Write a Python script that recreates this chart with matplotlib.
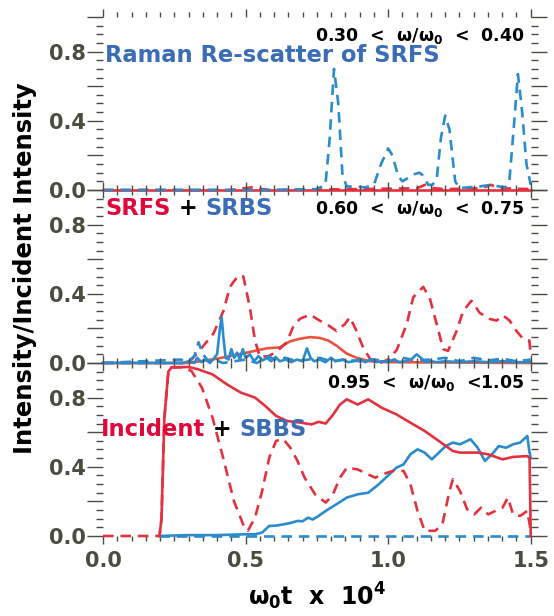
import matplotlib
matplotlib.use("Agg")
import matplotlib.pyplot as plt
from matplotlib.ticker import FixedLocator, MultipleLocator, FuncFormatter

plt.rcParams["font.family"] = ["DejaVu Sans"]
plt.rcParams["font.weight"] = "bold"
plt.rcParams["mathtext.fontset"] = "custom"
plt.rcParams["mathtext.rm"] = "DejaVu Sans:bold"
plt.rcParams["mathtext.it"] = "DejaVu Sans:bold"
plt.rcParams["mathtext.bf"] = "DejaVu Sans:bold"

# ---- data (time in units of 1e4 / omega_0, intensity / incident) ----
# top panel: 0.30 < w/w0 < 0.40
raman_t = [0.0, 0.3, 0.6, 0.75, 0.78, 0.795, 0.81, 0.825, 0.84, 0.855, 0.88, 0.92, 0.95, 0.975,
           1.0, 1.015, 1.035, 1.05, 1.07, 1.09, 1.11, 1.125, 1.14, 1.155, 1.17, 1.185, 1.2, 1.215,
           1.235, 1.25, 1.28, 1.32, 1.36, 1.39, 1.41, 1.425, 1.44, 1.455, 1.47, 1.485, 1.5]
raman_v = [0.0, 0.0, 0.0, 0.005, 0.03, 0.3, 0.7, 0.5, 0.08, 0.02, 0.02, 0.015, 0.03, 0.15,
           0.24, 0.2, 0.08, 0.05, 0.07, 0.09, 0.1, 0.08, 0.03, 0.03, 0.06, 0.3, 0.43, 0.35,
           0.05, 0.01, 0.015, 0.02, 0.03, 0.02, 0.015, 0.05, 0.35, 0.67, 0.45, 0.15, 0.03]
top_red_t = [0.0, 0.45, 0.52, 0.58, 0.9, 1.1, 1.13, 1.16, 1.2, 1.33, 1.36, 1.39, 1.5]
top_red_v = [0.0, 0.0, 0.015, 0.0, 0.005, 0.01, 0.03, 0.01, 0.005, 0.01, 0.03, 0.01, 0.005]
top_solid_t = [0.0, 1.5]
top_solid_v = [0.0, 0.0]

# middle panel: 0.60 < w/w0 < 0.75
srfs_dash_t = [0.0, 0.3, 0.34, 0.387, 0.422, 0.445, 0.474, 0.492, 0.515, 0.533, 0.55, 0.58,
               0.609, 0.644, 0.667, 0.69, 0.726, 0.76, 0.784, 0.819, 0.848, 0.866, 0.889, 0.912,
               0.936, 0.971, 1.0, 1.03, 1.065, 1.088, 1.123, 1.146, 1.17, 1.193, 1.21, 1.24,
               1.263, 1.292, 1.321, 1.356, 1.38, 1.403, 1.426, 1.45, 1.473, 1.495, 1.5]
srfs_dash_v = [0.0, 0.0, 0.075, 0.17, 0.30, 0.44, 0.505, 0.50, 0.32, 0.13, 0.035, 0.04,
               0.065, 0.12, 0.21, 0.255, 0.28, 0.245, 0.225, 0.185, 0.225, 0.265, 0.185, 0.09,
               0.025, 0.0, 0.02, 0.075, 0.225, 0.38, 0.44, 0.375, 0.225, 0.08, 0.07, 0.185,
               0.30, 0.36, 0.29, 0.255, 0.245, 0.275, 0.245, 0.185, 0.14, 0.13, 0.05]
srfs_t = [0.0, 0.3, 0.34, 0.4, 0.445, 0.504, 0.574, 0.62, 0.655, 0.69, 0.726, 0.76, 0.79,
          0.819, 0.854, 0.889, 0.936, 1.0, 1.5]
srfs_v = [0.0, 0.0, 0.01, 0.025, 0.04, 0.06, 0.085, 0.09, 0.125, 0.14, 0.15, 0.145, 0.13,
          0.10, 0.055, 0.03, 0.01, 0.005, 0.0]
srbs_t = [0.0, 0.28, 0.30, 0.32, 0.33, 0.345, 0.36, 0.375, 0.39, 0.40, 0.41, 0.416, 0.422,
          0.43, 0.44, 0.45, 0.46, 0.47, 0.48, 0.49, 0.50, 0.515, 0.53, 0.545, 0.56, 0.575,
          0.59, 0.605, 0.62, 0.64, 0.66, 0.68, 0.70, 0.715, 0.728, 0.74, 0.76, 0.78, 0.80,
          0.815, 0.84, 0.86, 0.88, 0.90, 0.92, 0.94, 0.96, 0.98, 1.0, 1.02, 1.04, 1.06, 1.08,
          1.10, 1.115, 1.13, 1.15, 1.17, 1.2, 1.25, 1.3, 1.35, 1.4, 1.45, 1.5]
srbs_v = [0.0, 0.0, 0.01, 0.0, 0.03, 0.005, 0.02, 0.0, 0.03, 0.05, 0.2, 0.265, 0.15,
          0.03, 0.02, 0.08, 0.03, 0.06, 0.02, 0.08, 0.03, 0.05, 0.01, 0.04, 0.015, 0.03,
          0.01, 0.035, 0.01, 0.02, 0.005, 0.02, 0.01, 0.085, 0.03, 0.01, 0.02, 0.005, 0.03,
          0.01, 0.02, 0.005, 0.01, 0.02, 0.005, 0.02, 0.005, 0.01, 0.005, 0.02, 0.005, 0.01, 0.02,
          0.05, 0.03, 0.005, 0.01, 0.005, 0.01, 0.005, 0.01, 0.005, 0.01, 0.005, 0.005]
srbs_dash_t = [0.0, 0.27, 0.3, 0.32, 0.335, 0.35, 0.37, 0.39, 0.42, 0.46, 0.5, 0.54, 0.58,
               0.6, 0.64, 0.68, 0.72, 0.76, 0.8, 0.85, 0.9, 0.95, 1.0, 1.05, 1.1, 1.15, 1.2,
               1.25, 1.3, 1.35, 1.4, 1.45, 1.5]
srbs_dash_v = [0.0, 0.02, 0.01, 0.04, 0.12, 0.05, 0.01, 0.02, 0.0, 0.01, 0.02, 0.0, 0.04,
               0.02, 0.03, 0.01, 0.02, 0.03, 0.01, 0.02, 0.01, 0.02, 0.01, 0.03, 0.015, 0.02, 0.03,
               0.01, 0.03, 0.015, 0.025, 0.01, 0.02]

# bottom panel: 0.95 < w/w0 < 1.05
inc_t = [0.198, 0.205, 0.215, 0.229, 0.24, 0.3, 0.335, 0.384, 0.434, 0.483, 0.533,
         0.57, 0.607, 0.645, 0.694, 0.731, 0.756, 0.781, 0.806, 0.831, 0.855, 0.893, 0.93,
         0.979, 1.029, 1.078, 1.128, 1.178, 1.227, 1.252, 1.314, 1.351, 1.401, 1.438, 1.488,
         1.496, 1.5]
inc_v = [0.0, 0.1, 0.68, 0.95, 0.975, 0.977, 0.963, 0.934, 0.877, 0.829, 0.80,
         0.75, 0.694, 0.665, 0.655, 0.645, 0.66, 0.65, 0.70, 0.76, 0.79, 0.76, 0.79,
         0.74, 0.703, 0.655, 0.607, 0.549, 0.491, 0.482, 0.482, 0.472, 0.443, 0.457, 0.462,
         0.45, 0.0]
inc_dash_t = [0.0, 0.198, 0.205, 0.215, 0.229, 0.24, 0.28, 0.31, 0.347, 0.384, 0.421, 0.459,
              0.496, 0.508, 0.533, 0.558, 0.583, 0.607, 0.632, 0.657, 0.682, 0.707, 0.744,
              0.781, 0.806, 0.831, 0.855, 0.893, 0.93, 0.955, 0.979, 1.017, 1.054, 1.078,
              1.103, 1.128, 1.165, 1.19, 1.215, 1.227, 1.252, 1.277, 1.302, 1.326, 1.351,
              1.376, 1.401, 1.42, 1.438, 1.463, 1.488, 1.5]
inc_dash_v = [0.0, 0.0, 0.1, 0.68, 0.95, 0.975, 0.975, 0.954, 0.857, 0.684, 0.453, 0.202,
              0.048, 0.03, 0.106, 0.26, 0.453, 0.55, 0.56, 0.51, 0.434, 0.337, 0.24,
              0.193, 0.24, 0.337, 0.395, 0.385, 0.356, 0.337, 0.356, 0.376, 0.376, 0.299,
              0.145, 0.03, 0.03, 0.067, 0.26, 0.328, 0.26, 0.154, 0.125, 0.164, 0.125,
              0.145, 0.164, 0.222, 0.125, 0.116, 0.145, 0.03]
sbbs_t = [0.198, 0.3, 0.4, 0.5, 0.533, 0.558, 0.583, 0.607, 0.632, 0.657, 0.682, 0.7, 0.719,
          0.735, 0.756, 0.781, 0.818, 0.855, 0.893, 0.93, 0.967, 1.004, 1.029, 1.054, 1.078,
          1.103, 1.128, 1.153, 1.178, 1.202, 1.227, 1.252, 1.289, 1.314, 1.339, 1.364, 1.388,
          1.413, 1.438, 1.463, 1.488, 1.495, 1.5]
sbbs_v = [0.0, 0.005, 0.005, 0.01, 0.01, 0.02, 0.058, 0.06, 0.067, 0.075, 0.087, 0.085, 0.106,
          0.095, 0.116, 0.145, 0.183, 0.222, 0.241, 0.25, 0.299, 0.356, 0.395, 0.414, 0.472,
          0.501, 0.482, 0.443, 0.482, 0.52, 0.54, 0.53, 0.559, 0.51, 0.434, 0.472, 0.52,
          0.51, 0.53, 0.54, 0.578, 0.49, 0.45]
sbbs_dash_t = [0.198, 1.5]
sbbs_dash_v = [0.0, 0.0]

RED = "#e2323f"
RED2 = "#e9533f"
BLUE = "#2a8ccc"
TXT_RED = "#e0083a"
TXT_BLUE = "#3a6db6"
TICK = "#4b4b40"

fig = plt.figure(figsize=(5.54, 6.16), dpi=100)
left, width, height = 0.186, 0.772, 0.2808
ax_top = fig.add_axes([left, 0.6916, width, height])
ax_mid = fig.add_axes([left, 0.4107, width, height])
ax_bot = fig.add_axes([left, 0.1299, width, height])

lw = 1.9
dash = (4, 2.6)
kw = dict(lw=lw, clip_on=False)

# top
ax_top.plot(top_solid_t, top_solid_v, color=RED, **kw)
ax_top.plot(top_red_t, top_red_v, color=RED, dashes=dash, **kw)
ax_top.plot(raman_t, raman_v, color=BLUE, dashes=dash, **kw)

# middle
ax_mid.plot(srfs_t, srfs_v, color=RED2, **kw)
ax_mid.plot(srfs_dash_t, srfs_dash_v, color=RED, dashes=dash, **kw)
ax_mid.plot(srbs_dash_t, srbs_dash_v, color=BLUE, dashes=dash, **kw)
ax_mid.plot(srbs_t, srbs_v, color=BLUE, **kw)

# bottom
ax_bot.plot(sbbs_t, sbbs_v, color=BLUE, **kw)
ax_bot.plot(sbbs_dash_t, sbbs_dash_v, color=BLUE, dashes=dash, **kw)
ax_bot.plot(inc_dash_t, inc_dash_v, color=RED, dashes=dash, **kw)
ax_bot.plot(inc_t, inc_v, color=RED, **kw)

ylab = FuncFormatter(lambda v, p: "%.1f" % v if round(v, 2) in (0.0, 0.4, 0.8) else "")
for ax in (ax_top, ax_mid, ax_bot):
    ax.set_xlim(0, 1.5)
    ax.set_ylim(0, 1.0)
    for s in ax.spines.values():
        s.set_visible(False)
    ax.xaxis.set_major_locator(MultipleLocator(0.5))
    ax.xaxis.set_minor_locator(MultipleLocator(0.05))
    ax.yaxis.set_major_locator(FixedLocator([0.0, 0.2, 0.4, 0.6, 0.8, 1.0]))
    ax.yaxis.set_minor_locator(MultipleLocator(0.05))
    ax.yaxis.set_major_formatter(ylab)
    ax.tick_params(axis="y", which="major", direction="out", length=11.5, width=1.0,
                   left=True, right=True, color=TICK, labelcolor=TICK, labelsize=15, pad=1)
    ax.tick_params(axis="y", which="minor", direction="out", length=5, width=1.0,
                   left=True, right=True, color=TICK)
    ax.tick_params(axis="x", which="major", direction="out", length=6, width=1.0,
                   top=True, bottom=True, color=TICK, labelcolor=TICK, labelsize=15, pad=5)
    ax.tick_params(axis="x", which="minor", direction="out", length=3.5, width=1.0,
                   top=True, bottom=True, color=TICK)
    for lab in ax.get_yticklabels() + ax.get_xticklabels():
        lab.set_fontweight("bold")
    ax.set_facecolor("none")

ax_top.tick_params(axis="x", labelbottom=False)
ax_mid.tick_params(axis="x", labelbottom=False)
ax_bot.xaxis.set_major_formatter(FuncFormatter(lambda v, p: "%.1f" % v))

ax_bot.set_xlabel(r"$\omega_0$t  x  10$^4$", fontsize=17, fontweight="bold", labelpad=7)
fig.text(0.045, 0.565, "Intensity/Incident Intensity", rotation=90, fontsize=17.5,
         fontweight="bold", ha="center", va="center")

# panel labels
ax_top.text(0.986, 0.893, r"0.30  <  $\omega$/$\omega_0$  <  0.40", transform=ax_top.transAxes,
            ha="right", va="center", fontsize=12.5, fontweight="bold")
ax_top.text(0.005, 0.775, "Raman Re-scatter of SRFS", transform=ax_top.transAxes,
            ha="left", va="center", fontsize=16.3, fontweight="bold", color=TXT_BLUE)

ax_mid.text(0.986, 0.893, r"0.60  <  $\omega$/$\omega_0$  <  0.75", transform=ax_mid.transAxes,
            ha="right", va="center", fontsize=12.5, fontweight="bold")
t1 = ax_mid.text(0.005, 0.895, "SRFS", transform=ax_mid.transAxes, ha="left", va="center",
                 fontsize=16.3, fontweight="bold", color=TXT_RED)
t2 = ax_mid.annotate(" + ", xycoords=t1, xy=(1, 0), va="bottom", ha="left",
                     fontsize=16.3, fontweight="bold", color="black")
ax_mid.annotate("SRBS", xycoords=t2, xy=(1, 0), va="bottom", ha="left",
                fontsize=16.3, fontweight="bold", color=TXT_BLUE)

ax_bot.text(0.986, 0.882, r"0.95  <  $\omega$/$\omega_0$  <1.05", transform=ax_bot.transAxes,
            ha="right", va="center", fontsize=12.5, fontweight="bold")
t3 = ax_bot.text(-0.005, 0.613, "Incident", transform=ax_bot.transAxes, ha="left", va="center",
                 fontsize=16.3, fontweight="bold", color=TXT_RED)
t4 = ax_bot.annotate(" + ", xycoords=t3, xy=(1, 0), va="bottom", ha="left",
                     fontsize=16.3, fontweight="bold", color="black")
ax_bot.annotate("SBBS", xycoords=t4, xy=(1, 0), va="bottom", ha="left",
                fontsize=16.3, fontweight="bold", color=TXT_BLUE)

fig.savefig("out.png", dpi=100)
